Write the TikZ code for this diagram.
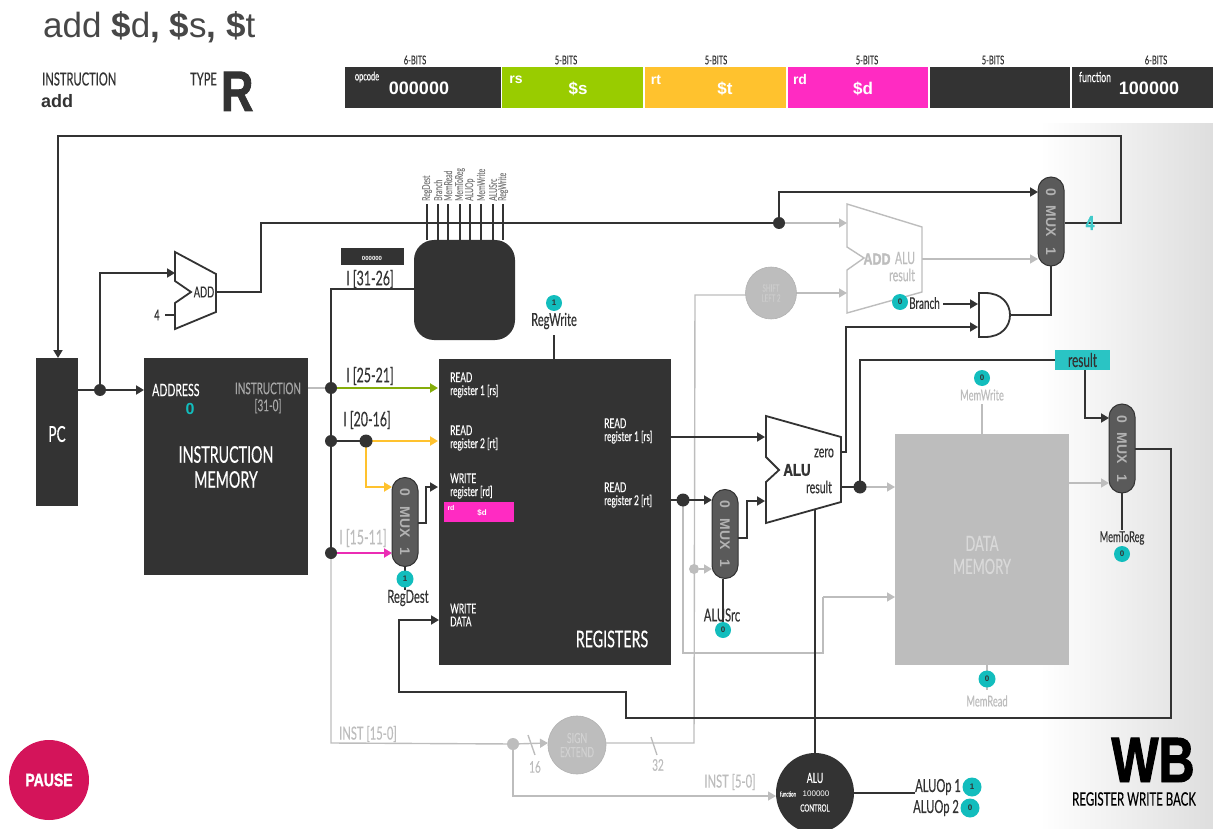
\documentclass[tikz,border=0pt]{standalone}
\usepackage{fontspec}
\usetikzlibrary{arrows.meta,calc,shapes.geometric}
\setmainfont{Liberation Sans}
\newfontfamily\cond[FakeStretch=0.62,FakeBold=0.3]{Lato}
\newfontfamily\heavy[FakeStretch=0.78,FakeBold=1.5]{Liberation Sans Bold}
\newcommand{\fsz}[1]{\fontsize{#1}{#1}\selectfont}
\definecolor{ink}{HTML}{333333}
\definecolor{faint}{HTML}{BDBDBD}
\definecolor{teal1}{HTML}{12BDBD}
\definecolor{muxc}{HTML}{5A5A5A}
\definecolor{grn}{HTML}{99CC00}
\definecolor{yel}{HTML}{FFC22E}
\definecolor{mag}{HTML}{FF2BC2}
\definecolor{pausec}{HTML}{D4145A}
\tikzset{
  wire/.style={draw=ink,line width=1.8pt},
  awire/.style={wire,-{Triangle[length=8pt,width=9pt]}},
  gwire/.style={draw=faint,line width=1.4pt},
  agwire/.style={gwire,-{Triangle[length=8pt,width=9pt]}},
  cwire/.style={line width=2pt,-{Triangle[length=8pt,width=9pt]}},
  box/.style={fill=ink,inner sep=0pt,minimum width=#1},
  field/.style={inner sep=0pt,minimum height=41pt,minimum width=#1},
  mux/.style={fill=muxc,draw=ink,line width=1pt,rounded corners=13pt,minimum width=89pt,minimum height=26pt,inner sep=0pt,rotate=-90,text=black!30,font=\bfseries\fsz{14}},
  dot/.style={circle,fill=ink,inner sep=0pt,minimum size=#1},
  gdot/.style={circle,fill=faint,inner sep=0pt,minimum size=#1},
  sig/.style={circle,fill=teal1,inner sep=0pt,minimum size=#1,font=\bfseries\fsz{8},text=ink},
  lab/.style={inner sep=0pt,font=\cond\fsz{#1},text=ink},
  glab/.style={inner sep=0pt,font=\cond\fsz{#1},text=faint},
  wlab/.style={inner sep=0pt,font=\cond\fsz{#1},text=white,align=left},
  small/.style={inner sep=0pt,font=\cond\fontsize{13.5}{13}\selectfont,text=white,align=left,anchor=west},
  bits/.style={inner sep=0pt,font=\cond\fsz{12},text=ink},
}
\begin{document}
\begin{tikzpicture}[x=1pt,y=-1pt]
\useasboundingbox (0,0) rectangle (1213,829);
\fill[left color=white,right color=black!13] (1040,124) rectangle (1213,829);

% ---- header
\node[anchor=base west,inner sep=0pt,text=ink!90,font=\fsz{35}] (title) at (43,38) {add \textbf{\$}d\textbf{,} \textbf{\$}s\textbf{,} \textbf{\$}t};
\node[lab=18,anchor=west] (instr) at (42,79) {INSTRUCTION};
\node[inner sep=0pt,anchor=west,font=\bfseries\fsz{18},text=ink] (instrname) at (41,101) {add};
\node[lab=18,anchor=west] (typel) at (190,79) {TYPE};
\node[inner sep=0pt,anchor=base west,font=\heavy\fsz{57},text=ink] (typev) at (221,111) {R};

\node[field=156pt,fill=ink,anchor=north west] (f1) at (345,67) {};
\node[field=141pt,fill=grn,anchor=north west] (f2) at (502,67) {};
\node[field=141pt,fill=yel,anchor=north west] (f3) at (645,67) {};
\node[field=140pt,fill=mag,anchor=north west] (f4) at (788,67) {};
\node[field=140pt,fill=ink,anchor=north west] (f5) at (930,67) {};
\node[field=141pt,fill=ink,anchor=north west] (f6) at (1072,67) {};
\node[bits] (b1) at (415,60) {6-BITS};
\node[bits] (b2) at (566,60) {5-BITS};
\node[bits] (b3) at (716,60) {5-BITS};
\node[bits] (b4) at (867,60) {5-BITS};
\node[bits] (b5) at (993,60) {5-BITS};
\node[bits] (b6) at (1156,60) {6-BITS};
\node[wlab=12] (opl) at (367,77) {opcode};
\node[inner sep=0pt,text=white,font=\bfseries\fsz{18}] (opv) at (419,88) {000000};
\node[inner sep=0pt,text=white,font=\bfseries\fsz{14}] (rsl) at (516,80) {rs};
\node[inner sep=0pt,text=white,font=\bfseries\fsz{17}] (rsv) at (578,89) {\$s};
\node[inner sep=0pt,text=white,font=\bfseries\fsz{14}] (rtl) at (656,80) {rt};
\node[inner sep=0pt,text=white,font=\bfseries\fsz{17}] (rtv) at (725,89) {\$t};
\node[inner sep=0pt,text=white,font=\bfseries\fsz{14}] (rdl) at (800,79) {rd};
\node[inner sep=0pt,text=white,font=\bfseries\fsz{17}] (rdv) at (863,89) {\$d};
\node[wlab=14] (fnl) at (1095,77) {function};
\node[inner sep=0pt,text=white,font=\bfseries\fsz{18}] (fnv) at (1149,88) {100000};

% ---- named points
\foreach \n/\x/\y in {
 pcin/58/358, tl/58/136, tr/1121/136, rb/1121/223, m1out/1065/223,
 pcout/78/390, addrin/144/390, addin1/175/273, corner1/100/273,
 four/165/315, addin2/175/315, addout/216/292, c2/261/292, c3/261/223,
 m1up/779/192, m1in0/1038/192, gaddin1/847/223, gaddout/922/259, m1in1/1038/259,
 shc/695/295, gaddin2/847/293, brin/978/304, brstart/943/304,
 andout/1010/315, c4/1051/315, m1b/1051/266, andin2/978/327, zc/846/327, zcc/846/452, aluz/841/452,
 ctl/414/289, ctc/331/289, imout/308/388, j1in/331/388, rr1/438/388, rr2/438/441,
 mr0c/366/487, mr0/392/487, mr1/392/553, mo/418/523, moc1/426/523, moc2/426/487, wr/438/487,
 rgd1/405/567, rgd2/405/590, rw1/554/359, rw2/554/335,
 ro1/671/437, ai1/765/437, ro2/671/500, am0/712/500,
 g1/683/653, g2/823/653, g3/823/597, dmin2/895/597,
 ginb/694/743, am1/712/569, amo/738/538, amo1/747/538, amo2/747/501, ai2/765/501,
 alusrc1/723/579, alusrc2/723/625,
 alur/841/487, dmin1/895/487, jc/860/360, res1/1055/360, res2/1085/370, res3/1085/418, mm0/1109/418,
 dmout/1069/483, mm1/1109/483, mmo/1135/449, mmc1/1171/449, mmc2/1171/718, mmc3/626/718, mmc4/626/692, mmc5/399/692, mmc6/399/620, wdin/439/620,
 mtr1/1122/493, mtr2/1122/530, mw1/982/404, mw2/982/434, mr1a/987/665, mr2a/987/690,
 g0/331/743, seR/606/743, seL/548/743, gl1/513/796, acl/776/796, ac1/815/510, ac2/815/755, acr/854/793, acr2/915/793}
 {\coordinate (\n) at (\x,\y);}

% ---- faint wires (under)
\node[gdot=12pt] (gj) at (513,744) {};
\node[gdot=10pt] (gj2) at (694,569) {};
\draw[gwire] (j1in) -- (imout);
\draw[gwire] (331,553) -- (g0) -- (gj);
\draw[agwire] (gj) -- (seL);
\draw[agwire] (gj) -- (gl1) -- (acl);
\draw[gwire] (seR) -- (ginb) -- (shc) -- (746,295);
\draw[agwire] (796,293) -- (gaddin2);
\draw[gwire] (683,500) -- (g1) -- (g2) -- (g3);
\draw[agwire] (g3) -- (dmin2);
\draw[agwire] (gj2) -- (am1);
\draw[agwire] (779,223) -- (gaddin1);
\draw[agwire] (gaddout) -- (m1in1);
\draw[agwire] (860,487) -- (dmin1);
\draw[agwire] (dmout) -- (mm1);
\draw[gwire] (mw1) -- (mw2);
\draw[gwire] (mr1a) -- (mr2a);
\draw[gwire] (528,735) -- (535,755);
\draw[gwire] (651,737) -- (657,755);

% ---- dark wires
\draw[awire] (pcout) -- (addrin);
\draw[awire] (100,390) -- (corner1) -- (addin1);
\draw[wire] (four) -- (addin2);
\draw[wire] (addout) -- (c2) -- (c3) -- (779,223);
\draw[awire] (779,223) -- (m1up) -- (m1in0);
\draw[awire] (m1out) -- (rb) -- (tr) -- (tl) -- (pcin);
\draw[awire] (brstart) -- (brin);
\draw[wire] (andout) -- (c4) -- (m1b);
\draw[awire] (aluz) -- (zcc) -- (zc) -- (andin2);
\draw[wire] (ctl) -- (ctc) -- (331,553);
\draw[cwire,draw=grn!80!ink] (j1in) -- (rr1);
\draw[wire] (331,441) -- (366,441);
\draw[cwire,draw=yel] (366,441) -- (rr2);
\draw[cwire,draw=yel] (366,441) -- (mr0c) -- (mr0);
\draw[cwire,draw=mag!90!ink] (331,553) -- (mr1);
\draw[awire] (mo) -- (moc1) -- (moc2) -- (wr);
\draw[wire] (rgd1) -- (rgd2);
\draw[wire] (rw1) -- (rw2);
\draw[awire] (ro1) -- (ai1);
\draw[awire] (ro2) -- (am0);
\draw[awire] (amo) -- (amo1) -- (amo2) -- (ai2);
\draw[wire] (alusrc1) -- (alusrc2);
\draw[wire] (alur) -- (860,487) -- (jc) -- (res1);
\draw[awire] (res2) -- (res3) -- (mm0);
\draw[wire] (mtr1) -- (mtr2);
\draw[awire] (mmo) -- (mmc1) -- (mmc2) -- (mmc3) -- (mmc4) -- (mmc5) -- (mmc6) -- (wdin);
\draw[wire] (ac1) -- (ac2);
\draw[wire] (acr) -- (acr2);

% ---- junctions
\node[dot=12pt] (j0) at (100,390) {};
\node[dot=12pt] (j1) at (779,223) {};
\node[dot=12pt] (j2) at (331,388) {};
\node[dot=12pt] (j3) at (331,441) {};
\node[dot=13pt] (j4) at (366,441) {};
\node[dot=12pt] (j5) at (331,553) {};
\node[dot=13pt] (j6) at (683,500) {};
\node[dot=13pt] (j7) at (860,487) {};

% ---- big blocks
\node[box=42pt,minimum height=148pt,anchor=north west] (pc) at (36,358) {};
\node[wlab=22] (pct) at (57,434) {PC};
\node[box=164pt,minimum height=217pt,anchor=north west] (im) at (144,358) {};
\node[wlab=17,anchor=west] (addr) at (152,390) {ADDRESS};
\node[inner sep=0pt,text=teal1,font=\bfseries\fsz{16}] (addrv) at (190,409) {0};
\node[glab=16,align=center,text=black!35] (instlab) at (268,398) {INSTRUCTION\\[1pt]{[31-0]}};
\node[wlab=23,align=center] (imt) at (226,467) {INSTRUCTION\\[2pt]MEMORY};
\node[fill=ink,rounded corners=20pt,inner sep=0pt,minimum width=101pt,minimum height=100pt] (ctrl) at (464.5,290) {};
\node[box=232pt,minimum height=306pt,anchor=north west] (reg) at (439,359) {};
\node[small] (r1) at (450,385) {READ\\register 1 [rs]};
\node[small] (r2) at (450,438) {READ\\register 2 [rt]};
\node[small] (r3) at (450,486) {WRITE\\register [rd]};
\node[fill=mag,inner sep=0pt,minimum width=70pt,minimum height=20pt,anchor=north west] (rdbox) at (444,502) {};
\node[inner sep=0pt,text=white,font=\bfseries\fsz{7}] (rdt) at (451,508) {rd};
\node[inner sep=0pt,text=white,font=\bfseries\fsz{8}] (rdv2) at (482,513) {\$d};
\node[small] (r4) at (450,615) {WRITE\\DATA};
\node[small] (r5) at (604,431) {READ\\register 1 [rs]};
\node[small] (r6) at (604,495) {READ\\register 2 [rt]};
\node[wlab=23] (rt) at (612,639) {REGISTERS};
\node[fill=faint,inner sep=0pt,minimum width=174pt,minimum height=231pt,anchor=north west] (dm) at (895,434) {};
\node[wlab=21,align=center,text=black!15] (dmt) at (982,555) {DATA\\[2pt]MEMORY};

% ---- control outputs
\foreach \x/\t/\i in {427/RegDest/1,438/Branch/2,448/MemRead/3,460/MemToReg/4,470/ALUOp/5,481/MemWrite/6,493/ALUSrc/7,503/RegWrite/8}{
  \coordinate (cq\i) at (\x,240);
  \coordinate (cp\i) at (\x,204);
  \draw[draw=ink,line width=1.3pt] (cq\i) -- (cp\i);
  \node[inner sep=0pt,rotate=90,anchor=west,font=\cond\fsz{11},text=black!50] (ct\i) at (\x,201) {\t};
}

% ---- opcode tag
\node[box=63pt,minimum height=17pt,anchor=north west] (optag) at (341,248) {};
\node[inner sep=0pt,text=white,font=\bfseries\fsz{6}] (optagv) at (372,258) {000000};
\node[lab=20] (i1) at (370,279) {I [31-26]};
\node[lab=20] (i2) at (370,376) {I [25-21]};
\node[lab=20] (i3) at (367,420) {I [20-16]};
\node[glab=20] (i4) at (363,538) {I [15-11]};
\node[glab=18] (i5) at (368,734) {INST [15-0]};
\node[glab=18] (i6) at (730,782) {INST [5-0]};
\node[glab=16] (n16) at (535,767) {16};
\node[glab=16] (n32) at (658,765) {32};
\node[lab=15] (four4) at (157,315) {4};

% ---- adders and ALU
\path[draw=ink,line width=1.8pt,fill=white] (175,252) -- (216,274) -- (216,312) -- (175,329) -- (175,303) -- (191,292) -- (175,281) -- cycle;
\node[lab=15] (addt) at (204,292) {ADD};
\path[draw=faint,line width=1.4pt,fill=white] (847,204) -- (922,227) -- (922,292) -- (847,313) -- (847,270) -- (864,258) -- (847,247) -- cycle;
\node[inner sep=0pt,font=\heavy\fsz{16},text=faint] (gaddt) at (877,259) {ADD};
\node[glab=17] (galu) at (905,258) {ALU};
\node[glab=17] (gres) at (902,275) {result};
\path[draw=ink,line width=1.8pt,fill=white] (766,416) -- (841,437) -- (841,502) -- (766,523) -- (766,482) -- (779,470) -- (766,457) -- cycle;
\node[inner sep=0pt,font=\heavy\fsz{17},text=ink] (alut) at (797,470) {ALU};
\node[lab=17] (zero) at (824,453) {zero};
\node[lab=17] (resu) at (819,487) {result};
\path[draw=ink,line width=1.8pt,fill=white] (979,293) -- (985,293) .. controls (1002,293) and (1010,304) .. (1010,315) .. controls (1010,326) and (1002,337) .. (985,337) -- (979,337) -- cycle;

% ---- muxes
\node[mux] (m1) at (1051,221.5) {0\hspace{10pt}MUX\hspace{10pt}1};
\node[mux] (m2) at (405,522) {0\hspace{10pt}MUX\hspace{10pt}1};
\node[mux] (m3) at (725,534) {0\hspace{10pt}MUX\hspace{10pt}1};
\node[mux] (m4) at (1122,448.5) {0\hspace{10pt}MUX\hspace{10pt}1};

% ---- faint ellipses
\node[ellipse,fill=faint,draw=black!30,line width=.6pt,minimum width=51pt,minimum height=52pt,inner sep=0pt,align=center,font=\cond\fsz{10},text=black!20] (shift) at (771,293) {SHIFT\\LEFT 2};
\node[ellipse,fill=faint,draw=black!30,line width=.6pt,minimum width=58pt,minimum height=58pt,inner sep=0pt,align=center,font=\cond\fsz{14},text=black!18] (se) at (577,745) {SIGN\\EXTEND};

% ---- signals
\node[sig=16pt] (s1) at (900,302) {0};
\node[lab=16,anchor=west] (brt) at (909,303) {Branch};
\node[sig=17pt] (s2) at (405,579) {1};
\node[lab=18] (rdl2) at (408,598) {RegDest};
\node[sig=16pt] (s3) at (554,303) {1};
\node[lab=18] (rwl) at (554,321) {RegWrite};
\node[lab=18] (asl) at (722,615) {ALUSrc};
\node[sig=16pt] (s4) at (723,630) {0};
\node[sig=16pt] (s5) at (982,378) {0};
\node[glab=15] (mwl) at (982,395) {MemWrite};
\node[sig=17pt] (s6) at (987,679) {0};
\node[glab=15] (mrl) at (987,701) {MemRead};
\node[lab=15] (mtl) at (1122,538) {MemToReg};
\node[sig=16pt] (s7) at (1122,554) {0};
\node[fill=teal1!90!white,inner sep=0pt,minimum width=55pt,minimum height=20pt,font=\cond\fsz{19},text=ink] (res) at (1082.5,360) {result};
\node[inner sep=0pt,text=teal1!80!white,font=\heavy\fsz{20}] (fourc) at (1090,223) {4};

% ---- ALU control
\node[ellipse,fill=ink,minimum width=78pt,minimum height=80pt,inner sep=0pt] (ac) at (815,793) {};
\node[wlab=14] (act) at (815,778) {ALU};
\node[wlab=7] (acf) at (788,794) {function};
\node[inner sep=0pt,text=white,font=\fsz{8}] (acv) at (816,794) {100000};
\node[wlab=10] (act2) at (815,808) {CONTROL};
\node[lab=18] (op1) at (938,787) {ALUOp 1};
\node[sig=19pt] (s8) at (972,787) {1};
\node[lab=18] (op2) at (936,808) {ALUOp 2};
\node[sig=19pt] (s9) at (970,808) {0};

% ---- WB + pause
\node[inner sep=0pt,anchor=base,text=black,font=\heavy\fsz{64}] (wb) at (1153,782) {WB};
\node[inner sep=0pt,text=black,font=\cond\fsz{18.5},anchor=north] (wbt) at (1134,792) {REGISTER WRITE BACK};
\node[circle,fill=pausec,inner sep=0pt,minimum size=80pt,text=white,font=\heavy\fsz{18}] (pause) at (49,780) {PAUSE};
\end{tikzpicture}
\end{document}
